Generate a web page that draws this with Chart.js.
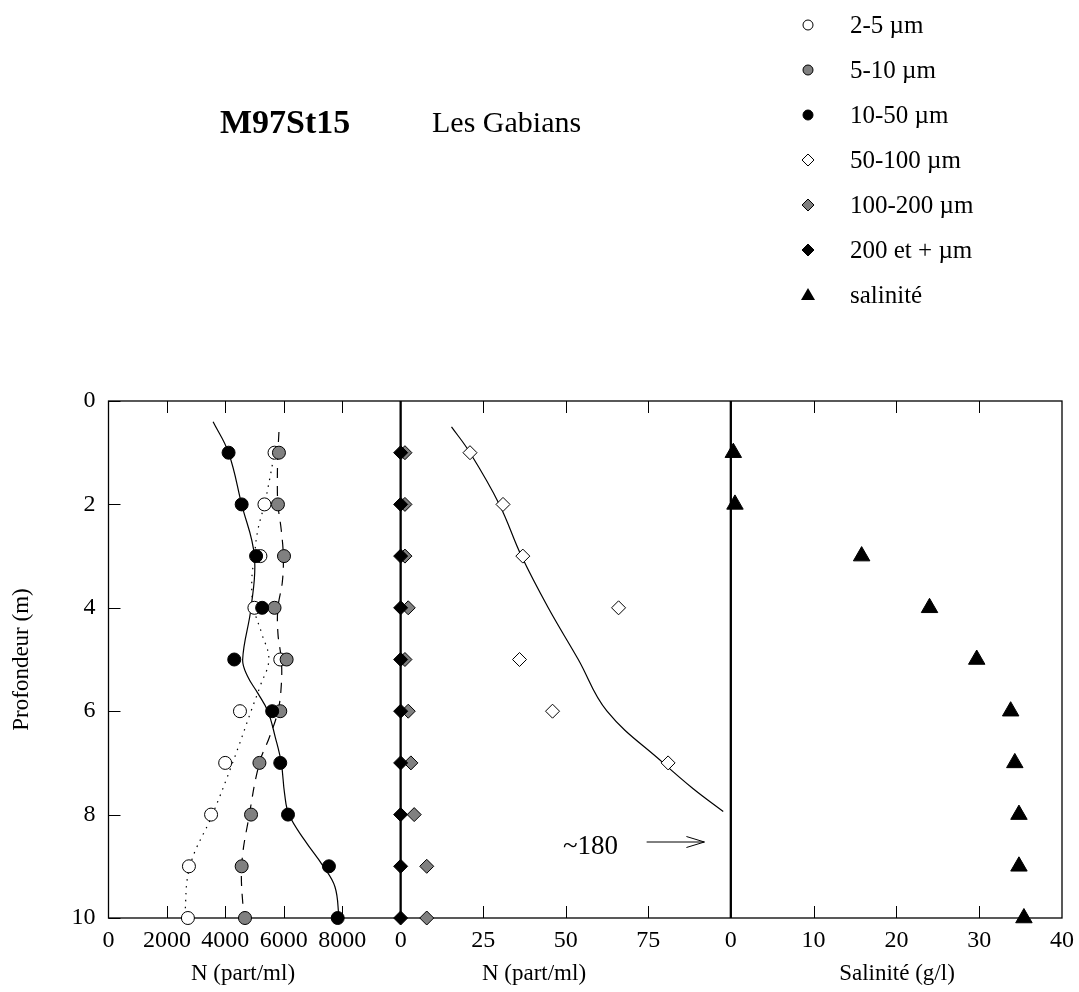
<!DOCTYPE html>
<html>
<head>
<meta charset="utf-8">
<script src="https://cdn.jsdelivr.net/npm/chart.js@4.4.0/dist/chart.umd.min.js"></script>
<style>
  body { margin: 0; background: #fff; font-family: 'Liberation Serif', 'Times New Roman', serif; color: #000; }
  #wrap { position: relative; width: 1079px; height: 992px; overflow: hidden; }
  #graph { position: absolute; left: 0; top: 0; }
  .txt { position: absolute; white-space: nowrap; line-height: 1; }
  .leg { position: absolute; left: 0; height: 26px; width: 300px; }
  .leg svg { position: absolute; left: 797px; top: 2px; }
  .leg span { position: absolute; left: 850px; top: 0; font-size: 25px; line-height: 1; white-space: nowrap; }
  .xt { position: absolute; top: 961px; font-size: 23px; line-height: 1; white-space: nowrap; transform: translateX(-50%); }
</style>
</head>
<body>
<div id="wrap">
  <canvas id="graph" width="1079" height="992"></canvas>
  <div class="txt" style="left:220px; top:105px; font-size:34px; font-weight:bold;">M97St15</div>
  <div class="txt" style="left:432px; top:107px; font-size:30px;">Les Gabians</div>
  <div id="legende"></div>
  <div class="xt" style="left:243px;">N (part/ml)</div>
  <div class="xt" style="left:534px;">N (part/ml)</div>
  <div class="xt" style="left:897px;">Salinité (g/l)</div>
</div>
<script>
// profondeur des prélèvements (m)
const prof = [1, 2, 3, 4, 5, 6, 7, 8, 9, 10];

// N (part/ml) par classe de taille
const n2_5 = [5683, 5338, 5200, 4994, 5879, 4500, 3994, 3511, 2753, 2718];
const n5_10 = [5834, 5800, 6007, 5683, 6097, 5879, 5166, 4879, 4558, 4672];
const n10_50 = [4110, 4558, 5052, 5259, 4304, 5603, 5879, 6144, 7545, 7845];
const n50_100 = [21, 31, 37, 66, 36, 46, 81, null, null, null]; // 8 m : ~180, hors échelle
const n100_200 = [1.3, 1.3, 1.3, 2.3, 1.3, 2.3, 3.1, 4.1, 7.9, 7.9];
const n200 = [0, 0, 0, 0, 0, 0, 0, 0, 0, 0];
const salinite = [0.3, 0.5, 15.8, 24.0, 29.7, 33.8, 34.3, 34.8, 34.8, 35.4];

// courbes lissées
const profC10_50 = [0.4, 1, 2, 3, 4, 5, 5.33, 5.65, 6, 6.5, 7, 7.6, 8, 8.5, 9, 9.4, 10];
const c10_50 = [3580, 4110, 4558, 4994, 4879, 4592, 4764, 5109, 5454, 5707, 5914, 6028, 6178, 6718, 7351, 7753, 7891];
const profC2_5 = [1.1, 1.5, 2, 2.5, 3, 3.5, 4, 4.5, 5, 5.5, 6, 7, 8, 9, 10];
const c2_5 = [5650, 5520, 5338, 5109, 4994, 4903, 4970, 5247, 5488, 5201, 4879, 4247, 3557, 2787, 2603];
const profC5_10 = [0.6, 1, 1.5, 2, 2.5, 3, 3.5, 4, 4.5, 5, 5.5, 6, 6.5, 7, 8, 9, 10];
const c5_10 = [5834, 5800, 5780, 5800, 5914, 5983, 5950, 5800, 5800, 5914, 5914, 5800, 5511, 5166, 4821, 4558, 4627];
const profC50_100 = [0.5, 1, 2, 3, 4, 5, 6, 7, 7.5, 7.94];
const c50_100 = [15.4, 21, 29.9, 36.6, 44.7, 53.8, 62.5, 79.5, 88.6, 97.7];

// graduations
const ticksProf = [0, 2, 4, 6, 8, 10];
const ticksN1 = [0, 2000, 4000, 6000, 8000];
const ticksN2 = [0, 25, 50, 75];
const ticksSal = [0, 10, 20, 30, 40];

const FONT = "'Liberation Serif', 'Times New Roman', serif";
const GRIS = '#808080';

const pts = (xs, ys) => xs.map((v, i) => ({ x: v, y: ys[i] })).filter(p => p.x !== null);

function serie(label, xs, ys, axe, style, fond, r, ordre) {
    return {
        label, data: pts(xs, ys), xAxisID: axe, yAxisID: 'y',
        pointStyle: style, pointRadius: r, pointBackgroundColor: fond,
        pointBorderColor: '#000', pointBorderWidth: 1, showLine: false,
        clip: false, order: ordre
    };
}
function courbe(xs, ys, axe, dash) {
    return {
        label: '', data: pts(xs, ys), xAxisID: axe, yAxisID: 'y',
        showLine: true, pointRadius: 0, borderColor: '#000', borderWidth: 1.2,
        borderDash: dash, tension: 0.4, fill: false, order: 10
    };
}

// légende
const LEG = [
    { nom: '2-5 µm', forme: 'rond', fond: '#fff' },
    { nom: '5-10 µm', forme: 'rond', fond: GRIS },
    { nom: '10-50 µm', forme: 'rond', fond: '#000' },
    { nom: '50-100 µm', forme: 'losange', fond: '#fff' },
    { nom: '100-200 µm', forme: 'losange', fond: GRIS },
    { nom: '200 et + µm', forme: 'losange', fond: '#000' },
    { nom: 'salinité', forme: 'triangle', fond: '#000' }
];
const legende = document.getElementById('legende');
LEG.forEach((l, i) => {
    let shape = '';
    if (l.forme === 'rond') shape = `<circle cx="11" cy="11" r="5" fill="${l.fond}" stroke="#000" stroke-width="1"/>`;
    if (l.forme === 'losange') shape = `<polygon points="11,5 17,11 11,17 5,11" fill="${l.fond}" stroke="#000" stroke-width="1"/>`;
    if (l.forme === 'triangle') shape = `<polygon points="11,4 18,16 4,16" fill="${l.fond}"/>`;
    const d = document.createElement('div');
    d.className = 'leg';
    d.style.top = (12 + i * 45) + 'px';
    d.innerHTML = `<svg width="22" height="22">${shape}</svg><span>${l.nom}</span>`;
    legende.appendChild(d);
});

// cadre, graduations intérieures et séparateurs
const cadre = {
    id: 'cadre',
    beforeDatasetsDraw(chart) {
        const { ctx, chartArea: a, scales } = chart;
        ctx.save();
        ctx.strokeStyle = '#000';
        ctx.lineWidth = 1;
        ['x1', 'x2', 'x3'].forEach(id => {
            const s = scales[id];
            s.ticks.forEach(t => {
                if (t.value === s.min || t.value === s.max) return;
                const px = Math.round(s.getPixelForValue(t.value)) + 0.5;
                ctx.beginPath();
                ctx.moveTo(px, a.top); ctx.lineTo(px, a.top + 12);
                ctx.moveTo(px, a.bottom); ctx.lineTo(px, a.bottom - 12);
                ctx.stroke();
            });
        });
        scales.y.ticks.forEach(t => {
            const py = Math.round(scales.y.getPixelForValue(t.value)) + 0.5;
            ctx.beginPath(); ctx.moveTo(a.left, py); ctx.lineTo(a.left + 12, py); ctx.stroke();
        });
        ctx.lineWidth = 1.3;
        ctx.strokeRect(a.left, a.top, a.width, a.height);
        ctx.lineWidth = 2.3;
        [scales.x2, scales.x3].forEach(s => {
            const px = s.getPixelForValue(0);
            ctx.beginPath(); ctx.moveTo(px, a.top); ctx.lineTo(px, a.bottom); ctx.stroke();
        });
        ctx.restore();
    },
    afterDatasetsDraw(chart) {
        // valeur hors échelle 50-100 µm à 8 m
        const { ctx, scales } = chart;
        const x2 = scales.x2, y = scales.y;
        ctx.save();
        ctx.fillStyle = '#000';
        ctx.font = `27px ${FONT}`;
        ctx.textAlign = 'center';
        ctx.textBaseline = 'middle';
        ctx.fillText('~180', x2.getPixelForValue(57.5), y.getPixelForValue(8.62));
        const ya = y.getPixelForValue(8.53);
        const xa = x2.getPixelForValue(74.5), xb = x2.getPixelForValue(92);
        ctx.strokeStyle = '#000';
        ctx.lineWidth = 1;
        ctx.beginPath();
        ctx.moveTo(xa, ya); ctx.lineTo(xb, ya);
        ctx.moveTo(xb - 18, ya - 5.5); ctx.lineTo(xb, ya); ctx.lineTo(xb - 18, ya + 5.5);
        ctx.stroke();
        ctx.restore();
    }
};

const tickFont = { family: FONT, size: 24 };
function axeX(min, max, graduations, poids) {
    return {
        type: 'linear', position: 'bottom', stack: 'panneaux', stackWeight: poids,
        min, max,
        afterBuildTicks: s => { s.ticks = graduations.map(v => ({ value: v })); },
        afterFit: s => { s.height = 74; s.paddingLeft = 0; s.paddingRight = 0; },
        grid: { display: false, drawTicks: false },
        border: { display: false },
        ticks: { font: tickFont, color: '#000', padding: 8, maxRotation: 0, autoSkip: false, callback: v => String(v) }
    };
}

new Chart(document.getElementById('graph'), {
    type: 'scatter',
    data: {
        datasets: [
            courbe(c10_50, profC10_50, 'x1', []),
            courbe(c2_5, profC2_5, 'x1', [1.5, 5.5]),
            courbe(c5_10, profC5_10, 'x1', [10, 8]),
            courbe(c50_100, profC50_100, 'x2', []),
            serie('10-50 µm', n10_50, prof, 'x1', 'circle', '#000', 6.5, 1),
            serie('5-10 µm', n5_10, prof, 'x1', 'circle', GRIS, 6.5, 2),
            serie('2-5 µm', n2_5, prof, 'x1', 'circle', '#fff', 6.5, 3),
            serie('200 et + µm', n200, prof, 'x2', 'rectRot', '#000', 7, 1),
            serie('100-200 µm', n100_200, prof, 'x2', 'rectRot', GRIS, 7, 2),
            serie('50-100 µm', n50_100, prof, 'x2', 'rectRot', '#fff', 7, 3),
            serie('salinité', salinite, prof, 'x3', 'triangle', '#000', 9.5, 1)
        ]
    },
    options: {
        responsive: false,
        animation: false,
        events: [],
        layout: { padding: { top: 401, right: 17, bottom: 0, left: 0 } },
        plugins: { legend: { display: false }, tooltip: { enabled: false } },
        scales: {
            x1: axeX(0, 10000, ticksN1, 292),
            x2: axeX(0, 100, ticksN2, 330),
            x3: axeX(0, 40, ticksSal, 331),
            y: {
                type: 'linear', position: 'left', reverse: true, min: 0, max: 10,
                afterBuildTicks: s => { s.ticks = ticksProf.map(v => ({ value: v })); },
                afterFit: s => { s.width = 108.5; s.paddingTop = 0; s.paddingBottom = 0; },
                grid: { display: false, drawTicks: false },
                border: { display: false },
                ticks: { font: tickFont, color: '#000', padding: 13 },
                title: { display: true, text: 'Profondeur (m)', color: '#000', font: { family: FONT, size: 23 }, padding: { top: 8 } }
            }
        }
    },
    plugins: [cadre]
});
</script>
</body>
</html>
